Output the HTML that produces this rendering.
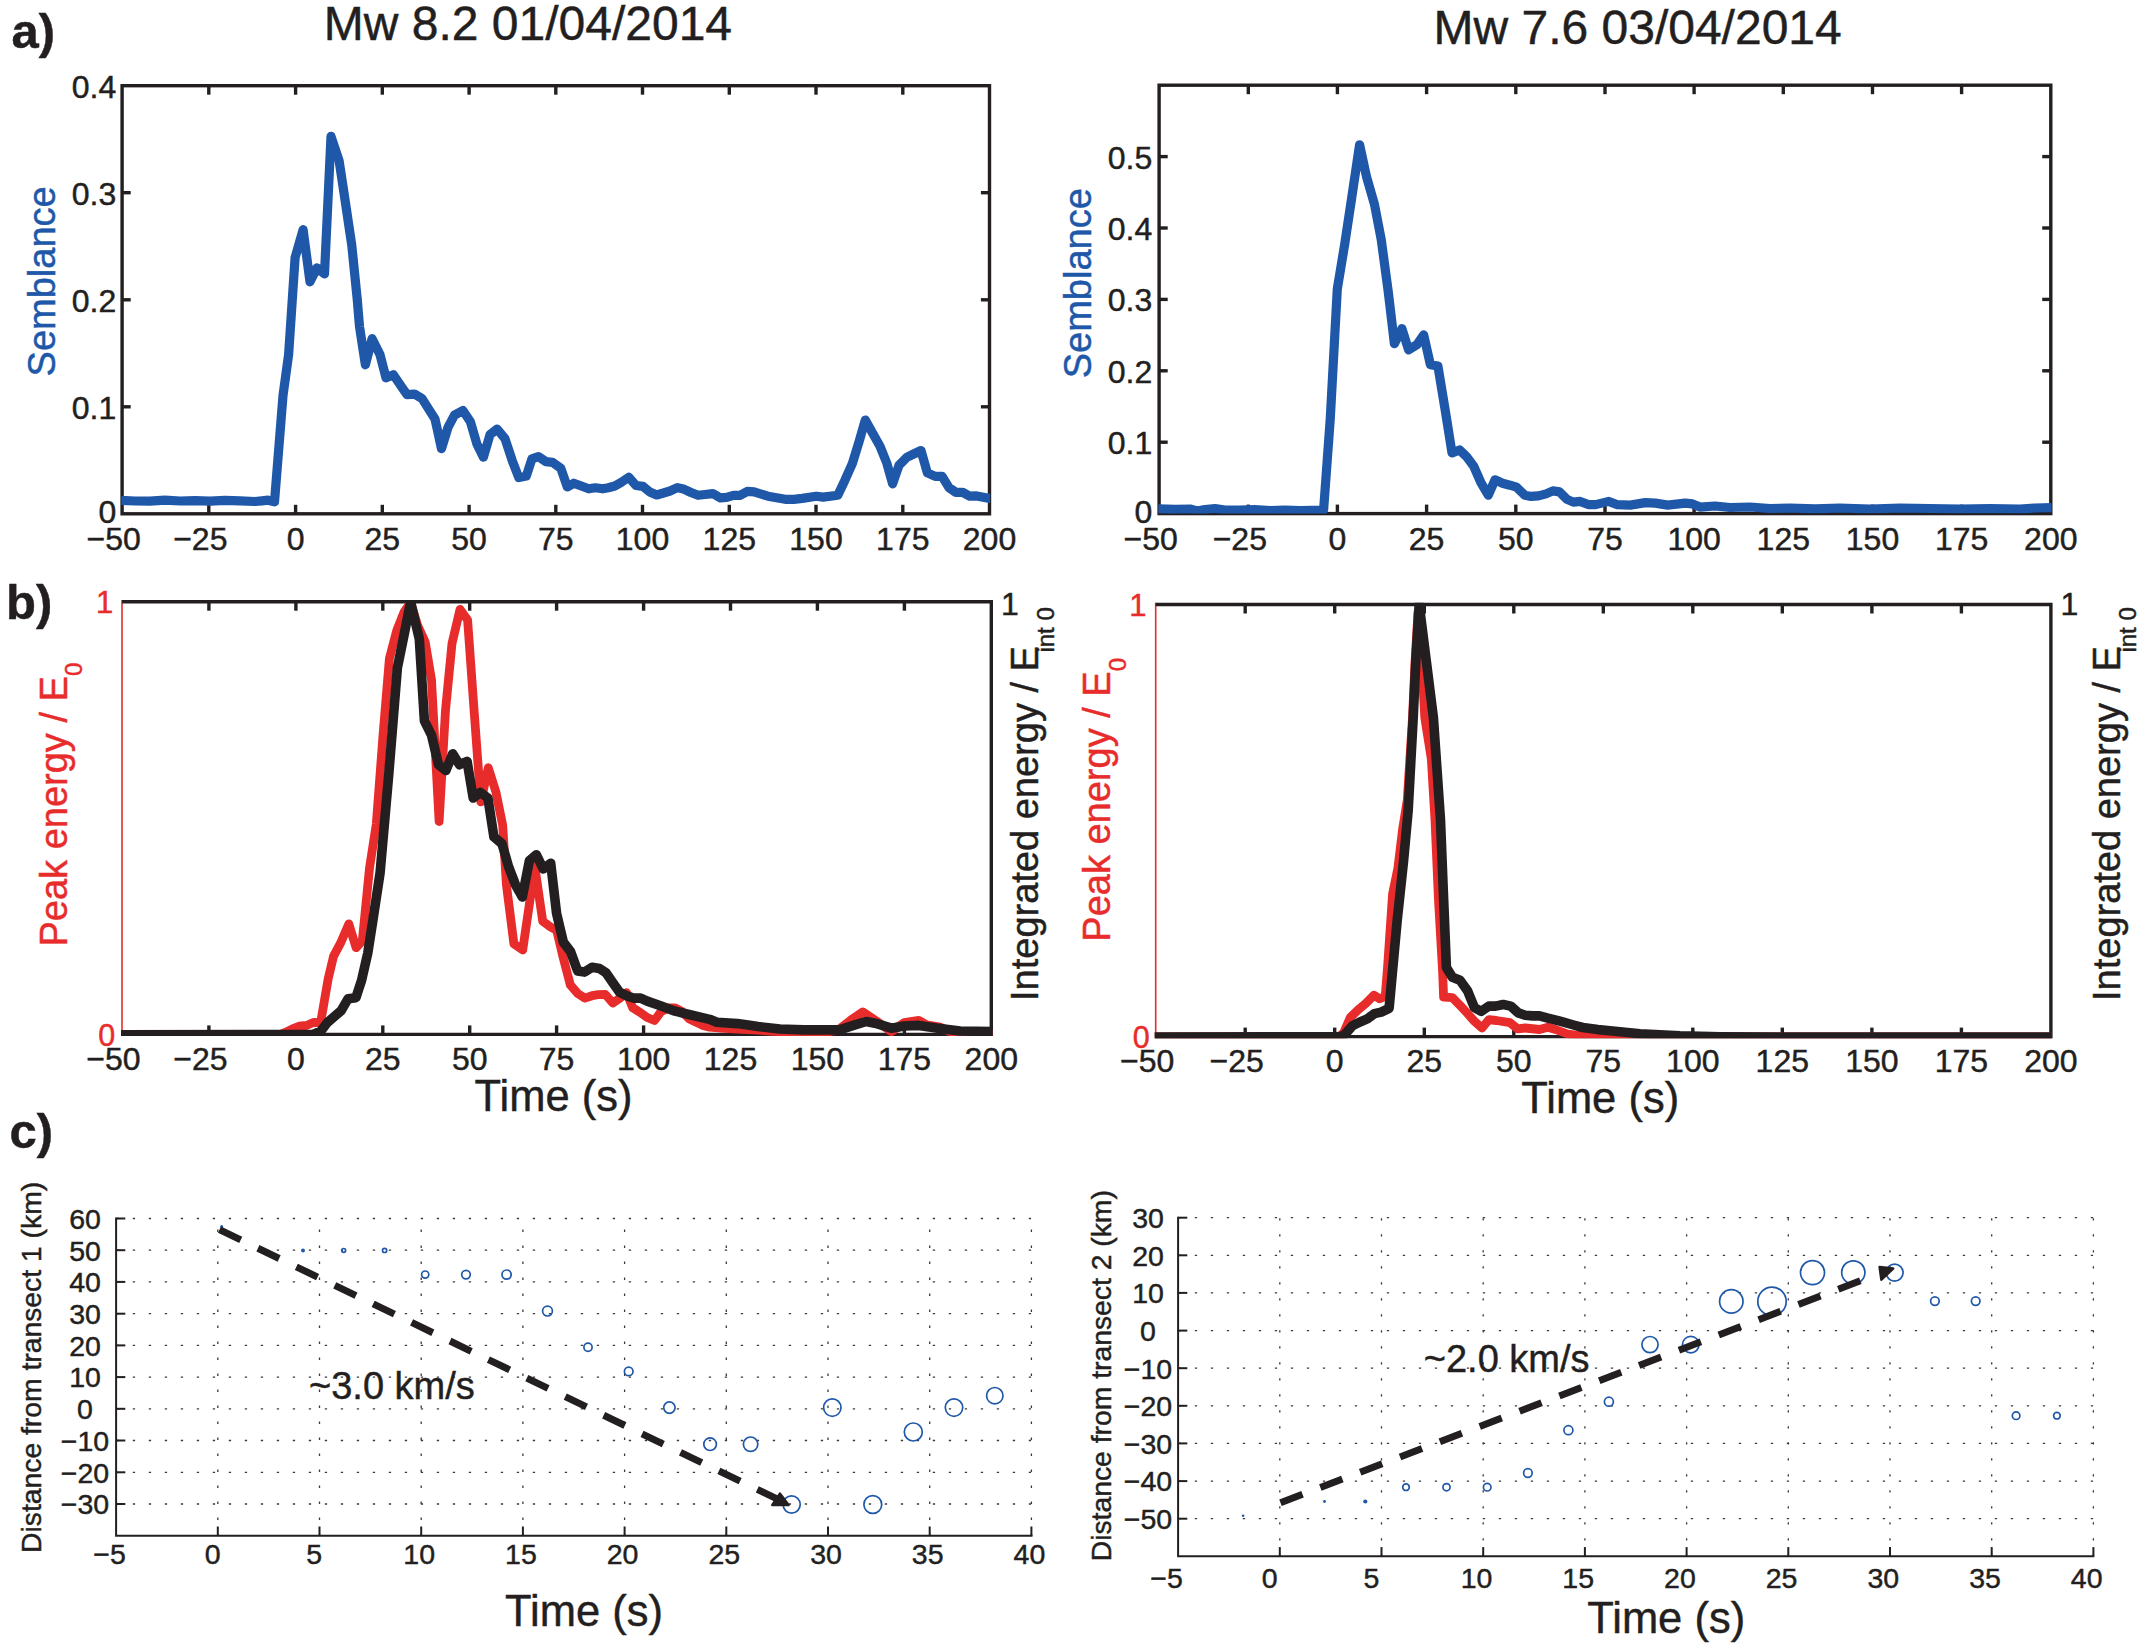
<!DOCTYPE html>
<html lang="en">
<head>
<meta charset="utf-8">
<title>Semblance and energy figure</title>
<style>
html,body{margin:0;padding:0;background:#fff;}
body{width:2146px;height:1650px;overflow:hidden;}
svg{display:block;font-family:"Liberation Sans", sans-serif;}
</style>
</head>
<body>
<svg width="2146" height="1650" viewBox="0 0 2146 1650">
<rect x="0" y="0" width="2146" height="1650" fill="#ffffff"/>
<clipPath id="ca1"><rect x="121.39999999999999" y="85.7" width="868.8" height="428.09999999999997"/></clipPath>
<rect x="122.1" y="85.7" width="867.4" height="428.1" fill="none" stroke="#231f20" stroke-width="3.4"/>
<line x1="208.8" y1="513.8" x2="208.8" y2="504.8" stroke="#231f20" stroke-width="3.4"/>
<line x1="208.8" y1="85.7" x2="208.8" y2="94.7" stroke="#231f20" stroke-width="3.4"/>
<line x1="295.6" y1="513.8" x2="295.6" y2="504.8" stroke="#231f20" stroke-width="3.4"/>
<line x1="295.6" y1="85.7" x2="295.6" y2="94.7" stroke="#231f20" stroke-width="3.4"/>
<line x1="382.3" y1="513.8" x2="382.3" y2="504.8" stroke="#231f20" stroke-width="3.4"/>
<line x1="382.3" y1="85.7" x2="382.3" y2="94.7" stroke="#231f20" stroke-width="3.4"/>
<line x1="469.1" y1="513.8" x2="469.1" y2="504.8" stroke="#231f20" stroke-width="3.4"/>
<line x1="469.1" y1="85.7" x2="469.1" y2="94.7" stroke="#231f20" stroke-width="3.4"/>
<line x1="555.8" y1="513.8" x2="555.8" y2="504.8" stroke="#231f20" stroke-width="3.4"/>
<line x1="555.8" y1="85.7" x2="555.8" y2="94.7" stroke="#231f20" stroke-width="3.4"/>
<line x1="642.5" y1="513.8" x2="642.5" y2="504.8" stroke="#231f20" stroke-width="3.4"/>
<line x1="642.5" y1="85.7" x2="642.5" y2="94.7" stroke="#231f20" stroke-width="3.4"/>
<line x1="729.3" y1="513.8" x2="729.3" y2="504.8" stroke="#231f20" stroke-width="3.4"/>
<line x1="729.3" y1="85.7" x2="729.3" y2="94.7" stroke="#231f20" stroke-width="3.4"/>
<line x1="816.0" y1="513.8" x2="816.0" y2="504.8" stroke="#231f20" stroke-width="3.4"/>
<line x1="816.0" y1="85.7" x2="816.0" y2="94.7" stroke="#231f20" stroke-width="3.4"/>
<line x1="902.8" y1="513.8" x2="902.8" y2="504.8" stroke="#231f20" stroke-width="3.4"/>
<line x1="902.8" y1="85.7" x2="902.8" y2="94.7" stroke="#231f20" stroke-width="3.4"/>
<polyline clip-path="url(#ca1)" points="120.0,500.3 135.0,501.0 150.0,501.2 165.0,500.2 180.0,501.0 195.0,500.6 210.0,501.2 225.0,500.4 240.0,500.8 255.0,501.5 262.0,500.8 268.0,500.2 274.5,501.8 283.0,395.6 288.6,354.6 295.1,257.6 303.1,229.7 310.0,281.8 316.9,267.9 324.5,273.9 331.0,136.4 339.1,160.6 344.0,193.0 351.8,245.5 357.3,300.0 359.5,326.6 365.4,364.8 372.1,338.7 380.0,354.6 386.0,377.9 393.4,374.7 400.5,385.3 407.0,394.6 414.5,394.1 421.9,398.4 428.4,408.6 435.0,418.9 441.5,448.7 448.0,427.3 454.5,415.1 462.9,410.5 470.4,421.7 476.9,444.0 483.4,457.1 490.0,434.7 497.0,429.1 504.9,438.4 512.3,460.8 518.8,477.6 526.3,476.1 531.9,458.9 538.4,456.7 545.9,461.7 552.4,462.3 560.8,468.3 567.3,486.9 573.8,483.2 581.3,486.0 588.7,488.8 595.3,487.8 602.7,488.8 608.3,487.8 614.8,486.0 621.4,482.2 628.8,477.2 636.0,485.5 642.9,486.4 649.8,492.0 656.7,495.0 663.5,493.0 670.0,491.0 677.4,487.6 684.3,489.3 691.0,492.5 698.1,495.3 705.0,494.5 712.8,493.6 720.5,497.9 726.6,497.4 733.4,495.3 740.3,495.3 747.2,491.4 754.1,491.9 767.9,496.2 785.2,499.3 793.8,499.3 802.4,498.4 816.2,496.2 823.1,497.1 837.8,495.3 844.7,480.7 852.4,463.4 859.0,441.9 865.3,420.0 873.1,434.1 880.0,446.2 886.9,463.4 892.6,483.8 899.0,465.2 906.7,457.4 913.6,454.0 921.0,450.5 927.4,472.9 935.2,476.4 942.1,476.4 949.0,487.6 955.9,492.4 962.8,492.4 969.7,496.2 976.6,495.9 991.0,498.8" fill="none" stroke="#2058a9" stroke-width="9.2" stroke-linejoin="round"/>
<line x1="122.1" y1="406.8" x2="130.7" y2="406.8" stroke="#231f20" stroke-width="3.4"/>
<line x1="989.5" y1="406.8" x2="980.9" y2="406.8" stroke="#231f20" stroke-width="3.4"/>
<line x1="122.1" y1="299.8" x2="130.7" y2="299.8" stroke="#231f20" stroke-width="3.4"/>
<line x1="989.5" y1="299.8" x2="980.9" y2="299.8" stroke="#231f20" stroke-width="3.4"/>
<line x1="122.1" y1="192.7" x2="130.7" y2="192.7" stroke="#231f20" stroke-width="3.4"/>
<line x1="989.5" y1="192.7" x2="980.9" y2="192.7" stroke="#231f20" stroke-width="3.4"/>
<text x="116.3" y="522.7" font-size="32" text-anchor="end" fill="#231f20" stroke="#231f20" stroke-width="0.45">0</text>
<text x="116.3" y="418.7" font-size="32" text-anchor="end" fill="#231f20" stroke="#231f20" stroke-width="0.45">0.1</text>
<text x="116.3" y="311.6" font-size="32" text-anchor="end" fill="#231f20" stroke="#231f20" stroke-width="0.45">0.2</text>
<text x="116.3" y="204.6" font-size="32" text-anchor="end" fill="#231f20" stroke="#231f20" stroke-width="0.45">0.3</text>
<text x="116.3" y="97.6" font-size="32" text-anchor="end" fill="#231f20" stroke="#231f20" stroke-width="0.45">0.4</text>
<text x="113.6" y="550.3" font-size="32" text-anchor="middle" fill="#231f20" stroke="#231f20" stroke-width="0.45">−50</text>
<text x="200.3" y="550.3" font-size="32" text-anchor="middle" fill="#231f20" stroke="#231f20" stroke-width="0.45">−25</text>
<text x="295.6" y="550.3" font-size="32" text-anchor="middle" fill="#231f20" stroke="#231f20" stroke-width="0.45">0</text>
<text x="382.3" y="550.3" font-size="32" text-anchor="middle" fill="#231f20" stroke="#231f20" stroke-width="0.45">25</text>
<text x="469.1" y="550.3" font-size="32" text-anchor="middle" fill="#231f20" stroke="#231f20" stroke-width="0.45">50</text>
<text x="555.8" y="550.3" font-size="32" text-anchor="middle" fill="#231f20" stroke="#231f20" stroke-width="0.45">75</text>
<text x="642.5" y="550.3" font-size="32" text-anchor="middle" fill="#231f20" stroke="#231f20" stroke-width="0.45">100</text>
<text x="729.3" y="550.3" font-size="32" text-anchor="middle" fill="#231f20" stroke="#231f20" stroke-width="0.45">125</text>
<text x="816.0" y="550.3" font-size="32" text-anchor="middle" fill="#231f20" stroke="#231f20" stroke-width="0.45">150</text>
<text x="902.8" y="550.3" font-size="32" text-anchor="middle" fill="#231f20" stroke="#231f20" stroke-width="0.45">175</text>
<text x="989.5" y="550.3" font-size="32" text-anchor="middle" fill="#231f20" stroke="#231f20" stroke-width="0.45">200</text>
<text x="55.3" y="281.4" font-size="38" text-anchor="middle" fill="#2058a9" stroke="#2058a9" stroke-width="0.45" transform="rotate(-90 55.3 281.4)">Semblance</text>
<clipPath id="ca2"><rect x="1158.3999999999999" y="85.2" width="893.1000000000003" height="428.40000000000003"/></clipPath>
<rect x="1159.1" y="85.2" width="891.7" height="428.4" fill="none" stroke="#231f20" stroke-width="3.4"/>
<line x1="1248.3" y1="513.6" x2="1248.3" y2="504.6" stroke="#231f20" stroke-width="3.4"/>
<line x1="1248.3" y1="85.2" x2="1248.3" y2="94.2" stroke="#231f20" stroke-width="3.4"/>
<line x1="1337.4" y1="513.6" x2="1337.4" y2="504.6" stroke="#231f20" stroke-width="3.4"/>
<line x1="1337.4" y1="85.2" x2="1337.4" y2="94.2" stroke="#231f20" stroke-width="3.4"/>
<line x1="1426.6" y1="513.6" x2="1426.6" y2="504.6" stroke="#231f20" stroke-width="3.4"/>
<line x1="1426.6" y1="85.2" x2="1426.6" y2="94.2" stroke="#231f20" stroke-width="3.4"/>
<line x1="1515.8" y1="513.6" x2="1515.8" y2="504.6" stroke="#231f20" stroke-width="3.4"/>
<line x1="1515.8" y1="85.2" x2="1515.8" y2="94.2" stroke="#231f20" stroke-width="3.4"/>
<line x1="1605.0" y1="513.6" x2="1605.0" y2="504.6" stroke="#231f20" stroke-width="3.4"/>
<line x1="1605.0" y1="85.2" x2="1605.0" y2="94.2" stroke="#231f20" stroke-width="3.4"/>
<line x1="1694.1" y1="513.6" x2="1694.1" y2="504.6" stroke="#231f20" stroke-width="3.4"/>
<line x1="1694.1" y1="85.2" x2="1694.1" y2="94.2" stroke="#231f20" stroke-width="3.4"/>
<line x1="1783.3" y1="513.6" x2="1783.3" y2="504.6" stroke="#231f20" stroke-width="3.4"/>
<line x1="1783.3" y1="85.2" x2="1783.3" y2="94.2" stroke="#231f20" stroke-width="3.4"/>
<line x1="1872.5" y1="513.6" x2="1872.5" y2="504.6" stroke="#231f20" stroke-width="3.4"/>
<line x1="1872.5" y1="85.2" x2="1872.5" y2="94.2" stroke="#231f20" stroke-width="3.4"/>
<line x1="1961.6" y1="513.6" x2="1961.6" y2="504.6" stroke="#231f20" stroke-width="3.4"/>
<line x1="1961.6" y1="85.2" x2="1961.6" y2="94.2" stroke="#231f20" stroke-width="3.4"/>
<polyline clip-path="url(#ca2)" points="1157.0,508.8 1175.0,509.3 1190.0,509.0 1197.0,511.0 1205.0,509.5 1215.0,508.5 1225.0,510.0 1240.0,510.2 1255.0,509.5 1270.0,510.5 1285.0,510.0 1300.0,510.6 1323.6,510.0 1330.3,418.1 1337.3,289.0 1344.7,244.2 1352.2,194.5 1359.6,144.8 1366.6,177.1 1374.5,204.5 1381.2,239.3 1388.2,291.4 1394.4,343.6 1401.9,328.7 1408.6,349.8 1416.8,344.8 1423.7,334.9 1430.4,364.7 1437.9,366.0 1445.3,410.7 1452.0,452.9 1459.5,449.9 1466.5,456.6 1473.9,466.6 1480.9,482.7 1488.3,495.2 1495.0,479.8 1502.5,483.2 1509.9,485.2 1516.6,487.2 1524.8,495.2 1531.0,496.4 1538.5,495.9 1546.0,493.9 1552.9,490.9 1559.6,491.9 1567.1,499.4 1573.3,502.1 1580.2,501.4 1588.2,504.6 1595.7,504.6 1608.8,501.4 1616.8,504.6 1630.4,505.1 1645.3,502.6 1655.3,503.1 1667.7,505.1 1685.1,503.1 1692.5,503.9 1700.0,507.1 1715.0,506.0 1730.0,507.5 1750.0,507.0 1770.0,508.5 1790.0,508.0 1815.0,508.8 1840.0,508.0 1870.0,509.0 1900.0,508.0 1930.0,508.5 1960.0,509.0 1990.0,508.5 2020.0,509.0 2035.0,508.0 2053.0,507.5" fill="none" stroke="#2058a9" stroke-width="9.2" stroke-linejoin="round"/>
<line x1="1159.1" y1="442.2" x2="1167.7" y2="442.2" stroke="#231f20" stroke-width="3.4"/>
<line x1="2050.8" y1="442.2" x2="2042.2" y2="442.2" stroke="#231f20" stroke-width="3.4"/>
<line x1="1159.1" y1="370.8" x2="1167.7" y2="370.8" stroke="#231f20" stroke-width="3.4"/>
<line x1="2050.8" y1="370.8" x2="2042.2" y2="370.8" stroke="#231f20" stroke-width="3.4"/>
<line x1="1159.1" y1="299.4" x2="1167.7" y2="299.4" stroke="#231f20" stroke-width="3.4"/>
<line x1="2050.8" y1="299.4" x2="2042.2" y2="299.4" stroke="#231f20" stroke-width="3.4"/>
<line x1="1159.1" y1="228.0" x2="1167.7" y2="228.0" stroke="#231f20" stroke-width="3.4"/>
<line x1="2050.8" y1="228.0" x2="2042.2" y2="228.0" stroke="#231f20" stroke-width="3.4"/>
<line x1="1159.1" y1="156.6" x2="1167.7" y2="156.6" stroke="#231f20" stroke-width="3.4"/>
<line x1="2050.8" y1="156.6" x2="2042.2" y2="156.6" stroke="#231f20" stroke-width="3.4"/>
<text x="1152.3" y="522.5" font-size="32" text-anchor="end" fill="#231f20" stroke="#231f20" stroke-width="0.45">0</text>
<text x="1152.3" y="454.1" font-size="32" text-anchor="end" fill="#231f20" stroke="#231f20" stroke-width="0.45">0.1</text>
<text x="1152.3" y="382.7" font-size="32" text-anchor="end" fill="#231f20" stroke="#231f20" stroke-width="0.45">0.2</text>
<text x="1152.3" y="311.3" font-size="32" text-anchor="end" fill="#231f20" stroke="#231f20" stroke-width="0.45">0.3</text>
<text x="1152.3" y="239.9" font-size="32" text-anchor="end" fill="#231f20" stroke="#231f20" stroke-width="0.45">0.4</text>
<text x="1152.3" y="168.5" font-size="32" text-anchor="end" fill="#231f20" stroke="#231f20" stroke-width="0.45">0.5</text>
<text x="1150.6" y="550.3" font-size="32" text-anchor="middle" fill="#231f20" stroke="#231f20" stroke-width="0.45">−50</text>
<text x="1239.8" y="550.3" font-size="32" text-anchor="middle" fill="#231f20" stroke="#231f20" stroke-width="0.45">−25</text>
<text x="1337.4" y="550.3" font-size="32" text-anchor="middle" fill="#231f20" stroke="#231f20" stroke-width="0.45">0</text>
<text x="1426.6" y="550.3" font-size="32" text-anchor="middle" fill="#231f20" stroke="#231f20" stroke-width="0.45">25</text>
<text x="1515.8" y="550.3" font-size="32" text-anchor="middle" fill="#231f20" stroke="#231f20" stroke-width="0.45">50</text>
<text x="1605.0" y="550.3" font-size="32" text-anchor="middle" fill="#231f20" stroke="#231f20" stroke-width="0.45">75</text>
<text x="1694.1" y="550.3" font-size="32" text-anchor="middle" fill="#231f20" stroke="#231f20" stroke-width="0.45">100</text>
<text x="1783.3" y="550.3" font-size="32" text-anchor="middle" fill="#231f20" stroke="#231f20" stroke-width="0.45">125</text>
<text x="1872.5" y="550.3" font-size="32" text-anchor="middle" fill="#231f20" stroke="#231f20" stroke-width="0.45">150</text>
<text x="1961.6" y="550.3" font-size="32" text-anchor="middle" fill="#231f20" stroke="#231f20" stroke-width="0.45">175</text>
<text x="2050.8" y="550.3" font-size="32" text-anchor="middle" fill="#231f20" stroke="#231f20" stroke-width="0.45">200</text>
<text x="1091.2" y="283.2" font-size="38" text-anchor="middle" fill="#2058a9" stroke="#2058a9" stroke-width="0.45" transform="rotate(-90 1091.2 283.2)">Semblance</text>
<clipPath id="cb1"><rect x="121.0" y="600.0" width="871.3" height="436.1"/></clipPath>
<line x1="122.0" y1="600.0" x2="122.0" y2="1036.1" stroke="#e82c2c" stroke-width="1.6"/>
<polyline points="122.0,601.7 991.3,601.7 991.3,1034.4 122.0,1034.4" fill="none" stroke="#231f20" stroke-width="3.4"/>
<line x1="208.9" y1="1034.4" x2="208.9" y2="1025.4" stroke="#231f20" stroke-width="3.4"/>
<line x1="208.9" y1="601.7" x2="208.9" y2="610.7" stroke="#231f20" stroke-width="3.4"/>
<line x1="295.9" y1="1034.4" x2="295.9" y2="1025.4" stroke="#231f20" stroke-width="3.4"/>
<line x1="295.9" y1="601.7" x2="295.9" y2="610.7" stroke="#231f20" stroke-width="3.4"/>
<line x1="382.8" y1="1034.4" x2="382.8" y2="1025.4" stroke="#231f20" stroke-width="3.4"/>
<line x1="382.8" y1="601.7" x2="382.8" y2="610.7" stroke="#231f20" stroke-width="3.4"/>
<line x1="469.7" y1="1034.4" x2="469.7" y2="1025.4" stroke="#231f20" stroke-width="3.4"/>
<line x1="469.7" y1="601.7" x2="469.7" y2="610.7" stroke="#231f20" stroke-width="3.4"/>
<line x1="556.6" y1="1034.4" x2="556.6" y2="1025.4" stroke="#231f20" stroke-width="3.4"/>
<line x1="556.6" y1="601.7" x2="556.6" y2="610.7" stroke="#231f20" stroke-width="3.4"/>
<line x1="643.6" y1="1034.4" x2="643.6" y2="1025.4" stroke="#231f20" stroke-width="3.4"/>
<line x1="643.6" y1="601.7" x2="643.6" y2="610.7" stroke="#231f20" stroke-width="3.4"/>
<line x1="730.5" y1="1034.4" x2="730.5" y2="1025.4" stroke="#231f20" stroke-width="3.4"/>
<line x1="730.5" y1="601.7" x2="730.5" y2="610.7" stroke="#231f20" stroke-width="3.4"/>
<line x1="817.4" y1="1034.4" x2="817.4" y2="1025.4" stroke="#231f20" stroke-width="3.4"/>
<line x1="817.4" y1="601.7" x2="817.4" y2="610.7" stroke="#231f20" stroke-width="3.4"/>
<line x1="904.4" y1="1034.4" x2="904.4" y2="1025.4" stroke="#231f20" stroke-width="3.4"/>
<line x1="904.4" y1="601.7" x2="904.4" y2="610.7" stroke="#231f20" stroke-width="3.4"/>
<polyline clip-path="url(#cb1)" points="120.0,1034.8 280.0,1034.6 285.5,1032.3 292.4,1028.8 299.4,1026.2 306.4,1025.5 313.9,1022.3 320.6,1022.6 328.2,978.8 333.6,956.1 340.5,943.2 348.8,923.9 356.1,947.7 362.3,940.9 369.5,868.2 376.3,824.1 382.9,736.7 389.4,658.6 396.7,630.6 404.2,611.7 410.6,602.6 417.6,625.3 425.2,642.0 431.5,679.8 439.1,821.5 445.5,710.2 452.0,643.5 460.0,609.4 467.6,620.0 473.9,707.9 480.8,801.8 488.3,767.7 495.9,792.0 502.7,825.3 506.4,884.8 513.9,943.9 522.7,950.0 529.1,906.1 534.8,866.7 542.7,921.2 550.9,927.2 556.7,930.3 563.0,956.9 570.3,984.8 577.6,993.3 584.8,998.1 592.1,995.7 598.2,994.7 605.4,994.5 612.7,1003.0 620.0,998.1 626.6,992.7 632.7,1007.8 640.6,1012.7 647.2,1017.5 654.5,1020.5 661.2,1011.4 668.4,1008.0 675.1,1007.8 681.8,1011.4 689.0,1018.7 696.3,1022.3 703.0,1025.4 709.6,1027.2 724.2,1028.4 738.7,1029.0 758.1,1030.2 782.3,1032.0 800.0,1032.6 830.0,1031.5 839.4,1029.0 851.0,1020.0 862.8,1012.0 877.0,1021.5 891.4,1031.6 904.2,1022.6 918.8,1020.4 926.6,1024.9 940.0,1027.1 953.4,1033.2 970.0,1034.3 993.0,1034.3" fill="none" stroke="#e82c2c" stroke-width="8.8" stroke-linejoin="round"/>
<polyline clip-path="url(#cb1)" points="120.0,1034.7 313.0,1034.5 320.8,1031.2 327.3,1022.7 334.2,1016.7 341.2,1010.6 348.0,998.8 355.9,997.7 361.6,980.3 367.8,953.0 373.2,918.2 380.1,872.7 388.8,773.8 397.4,667.7 404.0,635.2 410.6,601.8 419.3,638.9 424.4,720.8 431.5,735.2 438.5,764.7 445.9,770.5 452.7,753.8 459.5,764.7 467.1,761.4 473.2,798.0 480.3,792.4 487.9,798.0 493.9,836.9 502.0,843.7 508.6,866.7 515.5,884.8 522.3,897.0 529.4,860.6 536.4,854.8 543.2,868.9 550.7,863.2 556.6,913.5 563.4,942.3 570.5,951.5 577.6,970.9 584.6,972.1 592.1,967.2 599.4,968.4 606.0,972.7 612.7,982.4 619.4,992.1 626.6,995.7 633.3,998.1 640.6,998.1 647.2,1001.1 661.2,1006.0 675.1,1011.2 689.0,1014.5 709.6,1019.3 716.9,1022.3 737.5,1023.6 758.1,1026.6 779.9,1029.0 803.6,1029.9 839.4,1029.9 855.0,1024.9 866.2,1021.5 877.4,1023.8 891.4,1028.2 904.2,1026.0 918.8,1025.4 937.8,1028.2 960.2,1031.0 993.0,1031.6" fill="none" stroke="#231f20" stroke-width="9.6" stroke-linejoin="round"/>
<text x="113.5" y="1069.6" font-size="32" text-anchor="middle" fill="#231f20" stroke="#231f20" stroke-width="0.45">−50</text>
<text x="200.4" y="1069.6" font-size="32" text-anchor="middle" fill="#231f20" stroke="#231f20" stroke-width="0.45">−25</text>
<text x="295.9" y="1069.6" font-size="32" text-anchor="middle" fill="#231f20" stroke="#231f20" stroke-width="0.45">0</text>
<text x="382.8" y="1069.6" font-size="32" text-anchor="middle" fill="#231f20" stroke="#231f20" stroke-width="0.45">25</text>
<text x="469.7" y="1069.6" font-size="32" text-anchor="middle" fill="#231f20" stroke="#231f20" stroke-width="0.45">50</text>
<text x="556.6" y="1069.6" font-size="32" text-anchor="middle" fill="#231f20" stroke="#231f20" stroke-width="0.45">75</text>
<text x="643.6" y="1069.6" font-size="32" text-anchor="middle" fill="#231f20" stroke="#231f20" stroke-width="0.45">100</text>
<text x="730.5" y="1069.6" font-size="32" text-anchor="middle" fill="#231f20" stroke="#231f20" stroke-width="0.45">125</text>
<text x="817.4" y="1069.6" font-size="32" text-anchor="middle" fill="#231f20" stroke="#231f20" stroke-width="0.45">150</text>
<text x="904.4" y="1069.6" font-size="32" text-anchor="middle" fill="#231f20" stroke="#231f20" stroke-width="0.45">175</text>
<text x="991.3" y="1069.6" font-size="32" text-anchor="middle" fill="#231f20" stroke="#231f20" stroke-width="0.45">200</text>
<text x="113.2" y="612.9" font-size="31" text-anchor="end" fill="#e82c2c" stroke="#e82c2c" stroke-width="0.45">1</text>
<text x="115.3" y="1045.8" font-size="30.5" text-anchor="end" fill="#e82c2c" stroke="#e82c2c" stroke-width="0.45">0</text>
<text x="1001.0" y="614.5" font-size="32" text-anchor="start" fill="#231f20" stroke="#231f20" stroke-width="0.45">1</text>
<text x="553.5" y="1110.6" font-size="43.5" text-anchor="middle" fill="#231f20" stroke="#231f20" stroke-width="0.45">Time (s)</text>
<text transform="translate(66.5 946.5) rotate(-90)" font-size="38" fill="#e82c2c" stroke="#e82c2c" stroke-width="0.45">Peak energy / E<tspan font-size="24" dy="15.9">0</tspan></text>
<text transform="translate(1038.1 1001.0) rotate(-90)" font-size="38" fill="#231f20" stroke="#231f20" stroke-width="0.45">Integrated energy / E<tspan font-size="24" dy="15.9" dx="-6.5">int 0</tspan></text>
<clipPath id="cb2"><rect x="1154.7" y="602.8" width="897.2" height="435.4999999999999"/></clipPath>
<line x1="1155.7" y1="602.8" x2="1155.7" y2="1038.3" stroke="#e82c2c" stroke-width="1.6"/>
<polyline points="1155.7,604.5 2050.9,604.5 2050.9,1036.6 1155.7,1036.6" fill="none" stroke="#231f20" stroke-width="3.4"/>
<line x1="1245.2" y1="1036.6" x2="1245.2" y2="1027.6" stroke="#231f20" stroke-width="3.4"/>
<line x1="1245.2" y1="604.5" x2="1245.2" y2="613.5" stroke="#231f20" stroke-width="3.4"/>
<line x1="1334.7" y1="1036.6" x2="1334.7" y2="1027.6" stroke="#231f20" stroke-width="3.4"/>
<line x1="1334.7" y1="604.5" x2="1334.7" y2="613.5" stroke="#231f20" stroke-width="3.4"/>
<line x1="1424.3" y1="1036.6" x2="1424.3" y2="1027.6" stroke="#231f20" stroke-width="3.4"/>
<line x1="1424.3" y1="604.5" x2="1424.3" y2="613.5" stroke="#231f20" stroke-width="3.4"/>
<line x1="1513.8" y1="1036.6" x2="1513.8" y2="1027.6" stroke="#231f20" stroke-width="3.4"/>
<line x1="1513.8" y1="604.5" x2="1513.8" y2="613.5" stroke="#231f20" stroke-width="3.4"/>
<line x1="1603.3" y1="1036.6" x2="1603.3" y2="1027.6" stroke="#231f20" stroke-width="3.4"/>
<line x1="1603.3" y1="604.5" x2="1603.3" y2="613.5" stroke="#231f20" stroke-width="3.4"/>
<line x1="1692.8" y1="1036.6" x2="1692.8" y2="1027.6" stroke="#231f20" stroke-width="3.4"/>
<line x1="1692.8" y1="604.5" x2="1692.8" y2="613.5" stroke="#231f20" stroke-width="3.4"/>
<line x1="1782.3" y1="1036.6" x2="1782.3" y2="1027.6" stroke="#231f20" stroke-width="3.4"/>
<line x1="1782.3" y1="604.5" x2="1782.3" y2="613.5" stroke="#231f20" stroke-width="3.4"/>
<line x1="1871.9" y1="1036.6" x2="1871.9" y2="1027.6" stroke="#231f20" stroke-width="3.4"/>
<line x1="1871.9" y1="604.5" x2="1871.9" y2="613.5" stroke="#231f20" stroke-width="3.4"/>
<line x1="1961.4" y1="1036.6" x2="1961.4" y2="1027.6" stroke="#231f20" stroke-width="3.4"/>
<line x1="1961.4" y1="604.5" x2="1961.4" y2="613.5" stroke="#231f20" stroke-width="3.4"/>
<polyline clip-path="url(#cb2)" points="1153.0,1037.0 1337.0,1036.8 1341.8,1034.8 1344.0,1032.0 1350.3,1017.5 1358.6,1009.4 1365.6,1003.6 1374.0,995.2 1379.6,998.8 1385.2,996.5 1387.6,966.7 1392.6,893.9 1397.9,868.2 1402.5,830.0 1407.3,800.0 1412.5,717.7 1415.0,663.0 1418.0,612.0 1422.5,676.8 1424.8,717.7 1431.3,758.7 1435.0,820.0 1438.5,900.0 1442.6,971.2 1443.6,997.0 1452.4,997.7 1460.0,1005.3 1467.6,1013.6 1474.4,1021.2 1482.0,1028.0 1488.8,1019.7 1496.4,1020.5 1510.0,1022.7 1517.6,1028.8 1525.2,1028.0 1539.5,1029.5 1547.9,1027.3 1555.5,1029.5 1567.6,1034.0 1582.7,1035.8 1620.0,1036.8 2053.0,1037.0" fill="none" stroke="#e82c2c" stroke-width="8.8" stroke-linejoin="round"/>
<polyline clip-path="url(#cb2)" points="1153.0,1037.0 1340.0,1036.8 1344.8,1034.5 1352.4,1025.8 1360.0,1022.0 1367.3,1018.9 1374.4,1013.6 1381.2,1012.1 1389.1,1008.3 1397.1,921.2 1403.6,860.6 1408.2,810.0 1413.2,717.7 1415.7,663.2 1419.2,604.5 1426.3,661.0 1433.4,717.7 1440.5,820.0 1443.3,890.9 1446.4,967.4 1452.4,977.3 1460.0,980.3 1467.6,990.9 1474.4,1007.6 1481.2,1011.4 1488.8,1006.1 1495.6,1006.1 1503.2,1004.5 1510.8,1006.1 1518.3,1012.9 1525.2,1015.2 1532.7,1015.9 1539.5,1015.9 1547.9,1018.2 1560.0,1021.2 1573.6,1025.0 1582.7,1027.5 1597.9,1029.6 1610.0,1030.8 1640.0,1033.7 1680.0,1035.9 1720.0,1036.8 1800.0,1037.0 2053.0,1037.0" fill="none" stroke="#231f20" stroke-width="9.6" stroke-linejoin="round"/>
<text x="1147.2" y="1071.9" font-size="32" text-anchor="middle" fill="#231f20" stroke="#231f20" stroke-width="0.45">−50</text>
<text x="1236.7" y="1071.9" font-size="32" text-anchor="middle" fill="#231f20" stroke="#231f20" stroke-width="0.45">−25</text>
<text x="1334.7" y="1071.9" font-size="32" text-anchor="middle" fill="#231f20" stroke="#231f20" stroke-width="0.45">0</text>
<text x="1424.3" y="1071.9" font-size="32" text-anchor="middle" fill="#231f20" stroke="#231f20" stroke-width="0.45">25</text>
<text x="1513.8" y="1071.9" font-size="32" text-anchor="middle" fill="#231f20" stroke="#231f20" stroke-width="0.45">50</text>
<text x="1603.3" y="1071.9" font-size="32" text-anchor="middle" fill="#231f20" stroke="#231f20" stroke-width="0.45">75</text>
<text x="1692.8" y="1071.9" font-size="32" text-anchor="middle" fill="#231f20" stroke="#231f20" stroke-width="0.45">100</text>
<text x="1782.3" y="1071.9" font-size="32" text-anchor="middle" fill="#231f20" stroke="#231f20" stroke-width="0.45">125</text>
<text x="1871.9" y="1071.9" font-size="32" text-anchor="middle" fill="#231f20" stroke="#231f20" stroke-width="0.45">150</text>
<text x="1961.4" y="1071.9" font-size="32" text-anchor="middle" fill="#231f20" stroke="#231f20" stroke-width="0.45">175</text>
<text x="2050.9" y="1071.9" font-size="32" text-anchor="middle" fill="#231f20" stroke="#231f20" stroke-width="0.45">200</text>
<text x="1146.5" y="615.6" font-size="31" text-anchor="end" fill="#e82c2c" stroke="#e82c2c" stroke-width="0.45">1</text>
<text x="1149.6" y="1048.0" font-size="30.5" text-anchor="end" fill="#e82c2c" stroke="#e82c2c" stroke-width="0.45">0</text>
<text x="2060.6" y="614.8" font-size="32" text-anchor="start" fill="#231f20" stroke="#231f20" stroke-width="0.45">1</text>
<text x="1600.2" y="1112.9" font-size="43.5" text-anchor="middle" fill="#231f20" stroke="#231f20" stroke-width="0.45">Time (s)</text>
<text transform="translate(1110 941.7) rotate(-90)" font-size="38" fill="#e82c2c" stroke="#e82c2c" stroke-width="0.45">Peak energy / E<tspan font-size="24" dy="15.9">0</tspan></text>
<text transform="translate(2120 1001.0) rotate(-90)" font-size="38" fill="#231f20" stroke="#231f20" stroke-width="0.45">Integrated energy / E<tspan font-size="24" dy="15.5" dx="-6.5">int 0</tspan></text>
<line x1="116.8" y1="1218.5" x2="1033.0" y2="1218.5" stroke="#3c3a3a" stroke-width="1.3" stroke-dasharray="2.3 13.7"/>
<line x1="116.8" y1="1250.2" x2="1033.0" y2="1250.2" stroke="#3c3a3a" stroke-width="1.3" stroke-dasharray="2.3 13.7"/>
<line x1="116.8" y1="1281.9" x2="1033.0" y2="1281.9" stroke="#3c3a3a" stroke-width="1.3" stroke-dasharray="2.3 13.7"/>
<line x1="116.8" y1="1313.7" x2="1033.0" y2="1313.7" stroke="#3c3a3a" stroke-width="1.3" stroke-dasharray="2.3 13.7"/>
<line x1="116.8" y1="1345.4" x2="1033.0" y2="1345.4" stroke="#3c3a3a" stroke-width="1.3" stroke-dasharray="2.3 13.7"/>
<line x1="116.8" y1="1377.1" x2="1033.0" y2="1377.1" stroke="#3c3a3a" stroke-width="1.3" stroke-dasharray="2.3 13.7"/>
<line x1="116.8" y1="1408.8" x2="1033.0" y2="1408.8" stroke="#3c3a3a" stroke-width="1.3" stroke-dasharray="2.3 13.7"/>
<line x1="116.8" y1="1440.5" x2="1033.0" y2="1440.5" stroke="#3c3a3a" stroke-width="1.3" stroke-dasharray="2.3 13.7"/>
<line x1="116.8" y1="1472.3" x2="1033.0" y2="1472.3" stroke="#3c3a3a" stroke-width="1.3" stroke-dasharray="2.3 13.7"/>
<line x1="116.8" y1="1504.0" x2="1033.0" y2="1504.0" stroke="#3c3a3a" stroke-width="1.3" stroke-dasharray="2.3 13.7"/>
<line x1="217.8" y1="1535.9" x2="217.8" y2="1217.5" stroke="#3c3a3a" stroke-width="1.3" stroke-dasharray="2.3 13.7"/>
<line x1="319.5" y1="1535.9" x2="319.5" y2="1217.5" stroke="#3c3a3a" stroke-width="1.3" stroke-dasharray="2.3 13.7"/>
<line x1="421.2" y1="1535.9" x2="421.2" y2="1217.5" stroke="#3c3a3a" stroke-width="1.3" stroke-dasharray="2.3 13.7"/>
<line x1="522.9" y1="1535.9" x2="522.9" y2="1217.5" stroke="#3c3a3a" stroke-width="1.3" stroke-dasharray="2.3 13.7"/>
<line x1="624.6" y1="1535.9" x2="624.6" y2="1217.5" stroke="#3c3a3a" stroke-width="1.3" stroke-dasharray="2.3 13.7"/>
<line x1="726.3" y1="1535.9" x2="726.3" y2="1217.5" stroke="#3c3a3a" stroke-width="1.3" stroke-dasharray="2.3 13.7"/>
<line x1="828.0" y1="1535.9" x2="828.0" y2="1217.5" stroke="#3c3a3a" stroke-width="1.3" stroke-dasharray="2.3 13.7"/>
<line x1="929.7" y1="1535.9" x2="929.7" y2="1217.5" stroke="#3c3a3a" stroke-width="1.3" stroke-dasharray="2.3 13.7"/>
<line x1="1031.4" y1="1535.9" x2="1031.4" y2="1217.5" stroke="#3c3a3a" stroke-width="1.3" stroke-dasharray="2.3 13.7"/>
<polyline points="116.1,1217.5 116.1,1535.7 1032.5,1535.7" fill="none" stroke="#231f20" stroke-width="2"/>
<line x1="116.1" y1="1218.5" x2="125.3" y2="1218.5" stroke="#231f20" stroke-width="2"/>
<text x="85.0" y="1228.8" font-size="28.5" text-anchor="middle" fill="#231f20" stroke="#231f20" stroke-width="0.45">60</text>
<line x1="116.1" y1="1250.2" x2="125.3" y2="1250.2" stroke="#231f20" stroke-width="2"/>
<text x="85.0" y="1260.5" font-size="28.5" text-anchor="middle" fill="#231f20" stroke="#231f20" stroke-width="0.45">50</text>
<line x1="116.1" y1="1281.9" x2="125.3" y2="1281.9" stroke="#231f20" stroke-width="2"/>
<text x="85.0" y="1292.2" font-size="28.5" text-anchor="middle" fill="#231f20" stroke="#231f20" stroke-width="0.45">40</text>
<line x1="116.1" y1="1313.7" x2="125.3" y2="1313.7" stroke="#231f20" stroke-width="2"/>
<text x="85.0" y="1324.0" font-size="28.5" text-anchor="middle" fill="#231f20" stroke="#231f20" stroke-width="0.45">30</text>
<line x1="116.1" y1="1345.4" x2="125.3" y2="1345.4" stroke="#231f20" stroke-width="2"/>
<text x="85.0" y="1355.7" font-size="28.5" text-anchor="middle" fill="#231f20" stroke="#231f20" stroke-width="0.45">20</text>
<line x1="116.1" y1="1377.1" x2="125.3" y2="1377.1" stroke="#231f20" stroke-width="2"/>
<text x="85.0" y="1387.4" font-size="28.5" text-anchor="middle" fill="#231f20" stroke="#231f20" stroke-width="0.45">10</text>
<line x1="116.1" y1="1408.8" x2="125.3" y2="1408.8" stroke="#231f20" stroke-width="2"/>
<text x="85.0" y="1419.1" font-size="28.5" text-anchor="middle" fill="#231f20" stroke="#231f20" stroke-width="0.45">0</text>
<line x1="116.1" y1="1440.5" x2="125.3" y2="1440.5" stroke="#231f20" stroke-width="2"/>
<text x="85.0" y="1450.8" font-size="28.5" text-anchor="middle" fill="#231f20" stroke="#231f20" stroke-width="0.45">−10</text>
<line x1="116.1" y1="1472.3" x2="125.3" y2="1472.3" stroke="#231f20" stroke-width="2"/>
<text x="85.0" y="1482.6" font-size="28.5" text-anchor="middle" fill="#231f20" stroke="#231f20" stroke-width="0.45">−20</text>
<line x1="116.1" y1="1504.0" x2="125.3" y2="1504.0" stroke="#231f20" stroke-width="2"/>
<text x="85.0" y="1514.3" font-size="28.5" text-anchor="middle" fill="#231f20" stroke="#231f20" stroke-width="0.45">−30</text>
<text x="109.6" y="1563.5" font-size="28.5" text-anchor="middle" fill="#231f20" stroke="#231f20" stroke-width="0.45">−5</text>
<line x1="217.8" y1="1535.7" x2="217.8" y2="1526.5" stroke="#231f20" stroke-width="2"/>
<text x="212.6" y="1563.5" font-size="28.5" text-anchor="middle" fill="#231f20" stroke="#231f20" stroke-width="0.45">0</text>
<line x1="319.5" y1="1535.7" x2="319.5" y2="1526.5" stroke="#231f20" stroke-width="2"/>
<text x="314.3" y="1563.5" font-size="28.5" text-anchor="middle" fill="#231f20" stroke="#231f20" stroke-width="0.45">5</text>
<line x1="421.2" y1="1535.7" x2="421.2" y2="1526.5" stroke="#231f20" stroke-width="2"/>
<text x="419.2" y="1563.5" font-size="28.5" text-anchor="middle" fill="#231f20" stroke="#231f20" stroke-width="0.45">10</text>
<line x1="522.9" y1="1535.7" x2="522.9" y2="1526.5" stroke="#231f20" stroke-width="2"/>
<text x="520.9" y="1563.5" font-size="28.5" text-anchor="middle" fill="#231f20" stroke="#231f20" stroke-width="0.45">15</text>
<line x1="624.6" y1="1535.7" x2="624.6" y2="1526.5" stroke="#231f20" stroke-width="2"/>
<text x="622.6" y="1563.5" font-size="28.5" text-anchor="middle" fill="#231f20" stroke="#231f20" stroke-width="0.45">20</text>
<line x1="726.3" y1="1535.7" x2="726.3" y2="1526.5" stroke="#231f20" stroke-width="2"/>
<text x="724.3" y="1563.5" font-size="28.5" text-anchor="middle" fill="#231f20" stroke="#231f20" stroke-width="0.45">25</text>
<line x1="828.0" y1="1535.7" x2="828.0" y2="1526.5" stroke="#231f20" stroke-width="2"/>
<text x="826.0" y="1563.5" font-size="28.5" text-anchor="middle" fill="#231f20" stroke="#231f20" stroke-width="0.45">30</text>
<line x1="929.7" y1="1535.7" x2="929.7" y2="1526.5" stroke="#231f20" stroke-width="2"/>
<text x="927.7" y="1563.5" font-size="28.5" text-anchor="middle" fill="#231f20" stroke="#231f20" stroke-width="0.45">35</text>
<line x1="1031.4" y1="1535.7" x2="1031.4" y2="1526.5" stroke="#231f20" stroke-width="2"/>
<text x="1029.4" y="1563.5" font-size="28.5" text-anchor="middle" fill="#231f20" stroke="#231f20" stroke-width="0.45">40</text>
<circle cx="221.7" cy="1226.4" r="1.5" fill="#2058a9"/>
<circle cx="303.0" cy="1250.4" r="2.0" fill="#2058a9"/>
<circle cx="343.7" cy="1250.4" r="1.9" fill="none" stroke="#2058a9" stroke-width="1.7"/>
<circle cx="384.6" cy="1250.4" r="2.1" fill="none" stroke="#2058a9" stroke-width="1.7"/>
<circle cx="425.2" cy="1274.6" r="3.6" fill="none" stroke="#2058a9" stroke-width="1.7"/>
<circle cx="466.0" cy="1274.6" r="4.3" fill="none" stroke="#2058a9" stroke-width="1.7"/>
<circle cx="506.6" cy="1274.6" r="4.6" fill="none" stroke="#2058a9" stroke-width="1.7"/>
<circle cx="547.5" cy="1311.1" r="4.9" fill="none" stroke="#2058a9" stroke-width="1.7"/>
<circle cx="588.0" cy="1347.3" r="4.1" fill="none" stroke="#2058a9" stroke-width="1.7"/>
<circle cx="628.7" cy="1371.4" r="4.3" fill="none" stroke="#2058a9" stroke-width="1.7"/>
<circle cx="669.4" cy="1407.6" r="5.7" fill="none" stroke="#2058a9" stroke-width="1.7"/>
<circle cx="710.1" cy="1444.2" r="6.3" fill="none" stroke="#2058a9" stroke-width="1.7"/>
<circle cx="750.6" cy="1444.2" r="7.2" fill="none" stroke="#2058a9" stroke-width="1.7"/>
<circle cx="791.6" cy="1504.5" r="8.6" fill="none" stroke="#2058a9" stroke-width="1.7"/>
<circle cx="832.3" cy="1407.6" r="8.7" fill="none" stroke="#2058a9" stroke-width="1.7"/>
<circle cx="872.8" cy="1504.5" r="8.9" fill="none" stroke="#2058a9" stroke-width="1.7"/>
<circle cx="913.3" cy="1432.0" r="9.0" fill="none" stroke="#2058a9" stroke-width="1.7"/>
<circle cx="954.0" cy="1407.6" r="8.7" fill="none" stroke="#2058a9" stroke-width="1.7"/>
<circle cx="994.8" cy="1395.7" r="8.2" fill="none" stroke="#2058a9" stroke-width="1.7"/>
<line x1="219.5" y1="1229.7" x2="777.5" y2="1499.2" stroke="#231f20" stroke-width="7" stroke-dasharray="23.6 19.06"/>
<polygon points="779.9,1493.6 772.3,1504.9 788.6,1504.9" fill="#231f20" stroke="#231f20" stroke-width="2.5" stroke-linejoin="round"/>
<text x="41.2" y="1367.4" font-size="28.3" text-anchor="middle" fill="#231f20" stroke="#231f20" stroke-width="0.45" transform="rotate(-90 41.2 1367.4)">Distance from transect 1 (km)</text>
<text x="309.0" y="1398.6" font-size="38" text-anchor="start" fill="#231f20" stroke="#231f20" stroke-width="0.45">~3.0 km/s</text>
<text x="584.0" y="1625.9" font-size="43.5" text-anchor="middle" fill="#231f20" stroke="#231f20" stroke-width="0.45">Time (s)</text>
<line x1="1178.8" y1="1217.7" x2="2094.8" y2="1217.7" stroke="#3c3a3a" stroke-width="1.3" stroke-dasharray="2.3 13.7"/>
<line x1="1178.8" y1="1255.3" x2="2094.8" y2="1255.3" stroke="#3c3a3a" stroke-width="1.3" stroke-dasharray="2.3 13.7"/>
<line x1="1178.8" y1="1292.9" x2="2094.8" y2="1292.9" stroke="#3c3a3a" stroke-width="1.3" stroke-dasharray="2.3 13.7"/>
<line x1="1178.8" y1="1330.6" x2="2094.8" y2="1330.6" stroke="#3c3a3a" stroke-width="1.3" stroke-dasharray="2.3 13.7"/>
<line x1="1178.8" y1="1368.2" x2="2094.8" y2="1368.2" stroke="#3c3a3a" stroke-width="1.3" stroke-dasharray="2.3 13.7"/>
<line x1="1178.8" y1="1405.8" x2="2094.8" y2="1405.8" stroke="#3c3a3a" stroke-width="1.3" stroke-dasharray="2.3 13.7"/>
<line x1="1178.8" y1="1443.4" x2="2094.8" y2="1443.4" stroke="#3c3a3a" stroke-width="1.3" stroke-dasharray="2.3 13.7"/>
<line x1="1178.8" y1="1481.1" x2="2094.8" y2="1481.1" stroke="#3c3a3a" stroke-width="1.3" stroke-dasharray="2.3 13.7"/>
<line x1="1178.8" y1="1518.7" x2="2094.8" y2="1518.7" stroke="#3c3a3a" stroke-width="1.3" stroke-dasharray="2.3 13.7"/>
<line x1="1279.8" y1="1556.5" x2="1279.8" y2="1216.7" stroke="#3c3a3a" stroke-width="1.3" stroke-dasharray="2.3 13.7"/>
<line x1="1381.5" y1="1556.5" x2="1381.5" y2="1216.7" stroke="#3c3a3a" stroke-width="1.3" stroke-dasharray="2.3 13.7"/>
<line x1="1483.2" y1="1556.5" x2="1483.2" y2="1216.7" stroke="#3c3a3a" stroke-width="1.3" stroke-dasharray="2.3 13.7"/>
<line x1="1584.9" y1="1556.5" x2="1584.9" y2="1216.7" stroke="#3c3a3a" stroke-width="1.3" stroke-dasharray="2.3 13.7"/>
<line x1="1686.6" y1="1556.5" x2="1686.6" y2="1216.7" stroke="#3c3a3a" stroke-width="1.3" stroke-dasharray="2.3 13.7"/>
<line x1="1788.3" y1="1556.5" x2="1788.3" y2="1216.7" stroke="#3c3a3a" stroke-width="1.3" stroke-dasharray="2.3 13.7"/>
<line x1="1890.0" y1="1556.5" x2="1890.0" y2="1216.7" stroke="#3c3a3a" stroke-width="1.3" stroke-dasharray="2.3 13.7"/>
<line x1="1991.7" y1="1556.5" x2="1991.7" y2="1216.7" stroke="#3c3a3a" stroke-width="1.3" stroke-dasharray="2.3 13.7"/>
<line x1="2093.4" y1="1556.5" x2="2093.4" y2="1216.7" stroke="#3c3a3a" stroke-width="1.3" stroke-dasharray="2.3 13.7"/>
<polyline points="1178.1,1216.7 1178.1,1556.3 2094.3,1556.3" fill="none" stroke="#231f20" stroke-width="2"/>
<line x1="1178.1" y1="1217.7" x2="1187.3" y2="1217.7" stroke="#231f20" stroke-width="2"/>
<text x="1148.0" y="1228.0" font-size="28.5" text-anchor="middle" fill="#231f20" stroke="#231f20" stroke-width="0.45">30</text>
<line x1="1178.1" y1="1255.3" x2="1187.3" y2="1255.3" stroke="#231f20" stroke-width="2"/>
<text x="1148.0" y="1265.6" font-size="28.5" text-anchor="middle" fill="#231f20" stroke="#231f20" stroke-width="0.45">20</text>
<line x1="1178.1" y1="1292.9" x2="1187.3" y2="1292.9" stroke="#231f20" stroke-width="2"/>
<text x="1148.0" y="1303.2" font-size="28.5" text-anchor="middle" fill="#231f20" stroke="#231f20" stroke-width="0.45">10</text>
<line x1="1178.1" y1="1330.6" x2="1187.3" y2="1330.6" stroke="#231f20" stroke-width="2"/>
<text x="1148.0" y="1340.9" font-size="28.5" text-anchor="middle" fill="#231f20" stroke="#231f20" stroke-width="0.45">0</text>
<line x1="1178.1" y1="1368.2" x2="1187.3" y2="1368.2" stroke="#231f20" stroke-width="2"/>
<text x="1148.0" y="1378.5" font-size="28.5" text-anchor="middle" fill="#231f20" stroke="#231f20" stroke-width="0.45">−10</text>
<line x1="1178.1" y1="1405.8" x2="1187.3" y2="1405.8" stroke="#231f20" stroke-width="2"/>
<text x="1148.0" y="1416.1" font-size="28.5" text-anchor="middle" fill="#231f20" stroke="#231f20" stroke-width="0.45">−20</text>
<line x1="1178.1" y1="1443.4" x2="1187.3" y2="1443.4" stroke="#231f20" stroke-width="2"/>
<text x="1148.0" y="1453.7" font-size="28.5" text-anchor="middle" fill="#231f20" stroke="#231f20" stroke-width="0.45">−30</text>
<line x1="1178.1" y1="1481.1" x2="1187.3" y2="1481.1" stroke="#231f20" stroke-width="2"/>
<text x="1148.0" y="1491.4" font-size="28.5" text-anchor="middle" fill="#231f20" stroke="#231f20" stroke-width="0.45">−40</text>
<line x1="1178.1" y1="1518.7" x2="1187.3" y2="1518.7" stroke="#231f20" stroke-width="2"/>
<text x="1148.0" y="1529.0" font-size="28.5" text-anchor="middle" fill="#231f20" stroke="#231f20" stroke-width="0.45">−50</text>
<text x="1166.6" y="1588.2" font-size="28.5" text-anchor="middle" fill="#231f20" stroke="#231f20" stroke-width="0.45">−5</text>
<line x1="1279.8" y1="1556.3" x2="1279.8" y2="1547.1" stroke="#231f20" stroke-width="2"/>
<text x="1269.8" y="1588.2" font-size="28.5" text-anchor="middle" fill="#231f20" stroke="#231f20" stroke-width="0.45">0</text>
<line x1="1381.5" y1="1556.3" x2="1381.5" y2="1547.1" stroke="#231f20" stroke-width="2"/>
<text x="1371.5" y="1588.2" font-size="28.5" text-anchor="middle" fill="#231f20" stroke="#231f20" stroke-width="0.45">5</text>
<line x1="1483.2" y1="1556.3" x2="1483.2" y2="1547.1" stroke="#231f20" stroke-width="2"/>
<text x="1476.5" y="1588.2" font-size="28.5" text-anchor="middle" fill="#231f20" stroke="#231f20" stroke-width="0.45">10</text>
<line x1="1584.9" y1="1556.3" x2="1584.9" y2="1547.1" stroke="#231f20" stroke-width="2"/>
<text x="1578.2" y="1588.2" font-size="28.5" text-anchor="middle" fill="#231f20" stroke="#231f20" stroke-width="0.45">15</text>
<line x1="1686.6" y1="1556.3" x2="1686.6" y2="1547.1" stroke="#231f20" stroke-width="2"/>
<text x="1679.9" y="1588.2" font-size="28.5" text-anchor="middle" fill="#231f20" stroke="#231f20" stroke-width="0.45">20</text>
<line x1="1788.3" y1="1556.3" x2="1788.3" y2="1547.1" stroke="#231f20" stroke-width="2"/>
<text x="1781.6" y="1588.2" font-size="28.5" text-anchor="middle" fill="#231f20" stroke="#231f20" stroke-width="0.45">25</text>
<line x1="1890.0" y1="1556.3" x2="1890.0" y2="1547.1" stroke="#231f20" stroke-width="2"/>
<text x="1883.3" y="1588.2" font-size="28.5" text-anchor="middle" fill="#231f20" stroke="#231f20" stroke-width="0.45">30</text>
<line x1="1991.7" y1="1556.3" x2="1991.7" y2="1547.1" stroke="#231f20" stroke-width="2"/>
<text x="1985.0" y="1588.2" font-size="28.5" text-anchor="middle" fill="#231f20" stroke="#231f20" stroke-width="0.45">35</text>
<line x1="2093.4" y1="1556.3" x2="2093.4" y2="1547.1" stroke="#231f20" stroke-width="2"/>
<text x="2086.7" y="1588.2" font-size="28.5" text-anchor="middle" fill="#231f20" stroke="#231f20" stroke-width="0.45">40</text>
<circle cx="1243.1" cy="1515.7" r="1.3" fill="#2058a9"/>
<circle cx="1324.5" cy="1501.5" r="1.4" fill="#2058a9"/>
<circle cx="1365.3" cy="1501.5" r="2.1" fill="#2058a9"/>
<circle cx="1406.0" cy="1487.2" r="3.3" fill="none" stroke="#2058a9" stroke-width="1.7"/>
<circle cx="1446.5" cy="1487.2" r="3.6" fill="none" stroke="#2058a9" stroke-width="1.7"/>
<circle cx="1487.2" cy="1487.2" r="3.8" fill="none" stroke="#2058a9" stroke-width="1.7"/>
<circle cx="1527.9" cy="1473.0" r="4.3" fill="none" stroke="#2058a9" stroke-width="1.7"/>
<circle cx="1568.4" cy="1430.2" r="4.5" fill="none" stroke="#2058a9" stroke-width="1.7"/>
<circle cx="1608.9" cy="1401.7" r="4.5" fill="none" stroke="#2058a9" stroke-width="1.7"/>
<circle cx="1650.0" cy="1344.6" r="8.1" fill="none" stroke="#2058a9" stroke-width="1.7"/>
<circle cx="1690.8" cy="1344.6" r="8.3" fill="none" stroke="#2058a9" stroke-width="1.7"/>
<circle cx="1731.3" cy="1301.4" r="11.7" fill="none" stroke="#2058a9" stroke-width="1.7"/>
<circle cx="1772.0" cy="1301.4" r="14.2" fill="none" stroke="#2058a9" stroke-width="1.7"/>
<circle cx="1812.5" cy="1272.6" r="12.0" fill="none" stroke="#2058a9" stroke-width="1.7"/>
<circle cx="1853.3" cy="1272.4" r="11.6" fill="none" stroke="#2058a9" stroke-width="1.7"/>
<circle cx="1894.6" cy="1272.6" r="8.5" fill="none" stroke="#2058a9" stroke-width="1.7"/>
<circle cx="1934.9" cy="1301.1" r="4.3" fill="none" stroke="#2058a9" stroke-width="1.7"/>
<circle cx="1975.7" cy="1301.1" r="4.3" fill="none" stroke="#2058a9" stroke-width="1.7"/>
<circle cx="2016.1" cy="1415.7" r="3.8" fill="none" stroke="#2058a9" stroke-width="1.7"/>
<circle cx="2056.9" cy="1415.7" r="3.3" fill="none" stroke="#2058a9" stroke-width="1.7"/>
<line x1="1280.5" y1="1502.7" x2="1860.5" y2="1280.7" stroke="#231f20" stroke-width="7" stroke-dasharray="23.6 19.06"/>
<polygon points="1879.6,1267.0 1881.4,1279.7 1893.2,1268.6" fill="#231f20" stroke="#231f20" stroke-width="2.5" stroke-linejoin="round"/>
<text x="1110.7" y="1375.7" font-size="28.3" text-anchor="middle" fill="#231f20" stroke="#231f20" stroke-width="0.45" transform="rotate(-90 1110.7 1375.7)">Distance from transect 2 (km)</text>
<text x="1423.8" y="1371.6" font-size="38" text-anchor="start" fill="#231f20" stroke="#231f20" stroke-width="0.45">~2.0 km/s</text>
<text x="1666.2" y="1632.5" font-size="43.5" text-anchor="middle" fill="#231f20" stroke="#231f20" stroke-width="0.45">Time (s)</text>
<text x="11.5" y="47.8" font-size="49" text-anchor="start" fill="#231f20" stroke="#231f20" stroke-width="0.45" font-weight="bold">a)</text>
<text x="6.0" y="618.9" font-size="49" text-anchor="start" fill="#231f20" stroke="#231f20" stroke-width="0.45" font-weight="bold">b)</text>
<text x="9.5" y="1148.0" font-size="49" text-anchor="start" fill="#231f20" stroke="#231f20" stroke-width="0.45" font-weight="bold">c)</text>
<text x="527.9" y="40.3" font-size="48" text-anchor="middle" fill="#231f20" stroke="#231f20" stroke-width="0.45">Mw 8.2 01/04/2014</text>
<text x="1637.6" y="43.6" font-size="48" text-anchor="middle" fill="#231f20" stroke="#231f20" stroke-width="0.45">Mw 7.6 03/04/2014</text>
</svg>
</body>
</html>
